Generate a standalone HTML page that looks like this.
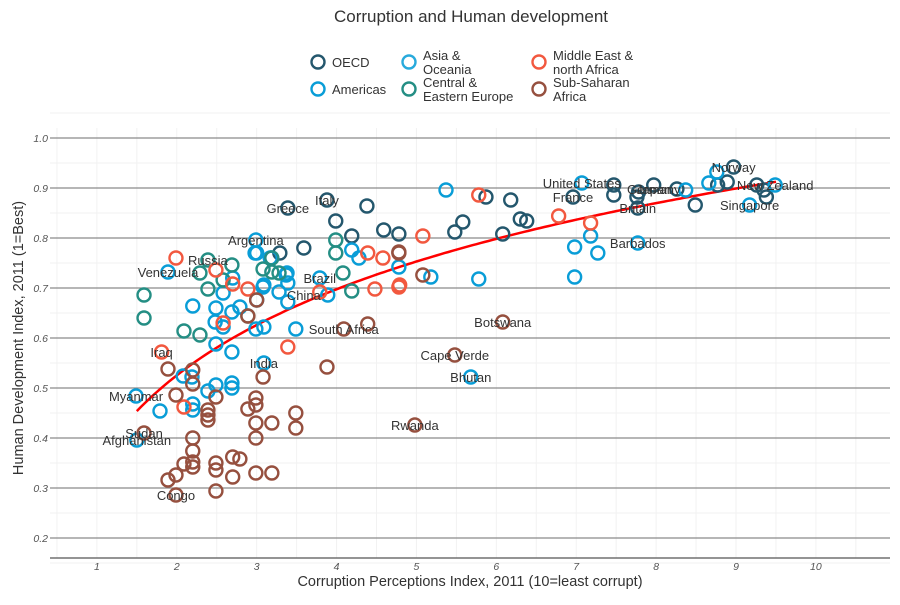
<!DOCTYPE html>
<html><head><meta charset="utf-8"><style>
body{margin:0;background:#fff;font-family:"Liberation Sans",sans-serif}
svg text{font-family:"Liberation Sans",sans-serif}
</style></head><body>
<svg id="chart" width="900" height="600" xmlns="http://www.w3.org/2000/svg">
<text x="471" y="22" text-anchor="middle" font-size="17" fill="#333">Corruption and Human development</text>
<g id="legend"></g>
<g id="grid"></g>
<g id="trend"></g>
<g id="points"></g>
<g id="labels"></g>
<text x="470" y="586" text-anchor="middle" font-size="14.5" fill="#333">Corruption Perceptions Index, 2011 (10=least corrupt)</text>
<text transform="translate(23,338) rotate(-90)" text-anchor="middle" font-size="14.5" fill="#333">Human Development Index, 2011 (1=Best)</text>
</svg>
<script>
const regions = ["OECD","Americas","Asia & Oceania","Central & Eastern Europe","Middle East & north Africa","Sub-Saharan Africa"];
const regionColors = ["#24576D","#099DD7","#28AADC","#248E84","#F2583F","#96503F"];
const xTicks = [1,2,3,4,5,6,7,8,9,10];
const yTicks = [0.2,0.3,0.4,0.5,0.6,0.7,0.8,0.9,1.0];
const oecdCPI = [5.87,6.18,6.30,6.38,6.08,5.58,5.48,4.78,4.59,4.38,3.99,3.88,3.39,4.19,3.59,3.29,8.49,7.76,7.47,7.97,8.26,7.77,6.96,8.97,8.77,8.89,9.26,9.35,9.38,7.78,7.47];
const oecdHDI = [.882,.876,.838,.834,.808,.832,.812,.808,.816,.864,.834,.876,.86,.804,.78,.77,.866,.882,.906,.906,.898,.86,.882,.942,.906,.912,.906,.896,.882,.892,.886];
const blueCPI = [5.37,7.07,8.37,8.66,8.76,9.49,9.17,7.18,6.98,7.27,7.77,6.98,5.78,5.18,4.78,4.28,4.19,3.0,3.18,3.37,3.09,2.99,2.98,3.17,3.38,3.39,3.28,3.39,3.08,3.0,2.7,2.58,2.2,2.49,2.69,2.79,2.48,2.58,2.99,3.09,3.49,2.49,2.69,1.89,3.09,2.08,2.19,2.39,2.49,2.69,2.69,1.49,1.79,2.2,2.2,1.5,3.89,3.79,5.68];
const blueHDI = [.896,.91,.896,.91,.932,.906,.866,.804,.782,.77,.79,.722,.718,.722,.742,.76,.776,.77,.76,.726,.706,.796,.77,.76,.73,.71,.692,.672,.702,.676,.72,.69,.664,.66,.652,.662,.632,.622,.618,.622,.618,.588,.572,.732,.55,.524,.522,.494,.506,.51,.50,.484,.454,.468,.456,.396,.686,.72,.522];
const ceeCPI = [3.99,3.99,4.19,4.08,3.19,3.08,3.19,3.28,2.69,2.39,2.29,2.58,2.39,2.89,1.59,1.59,2.09,2.29];
const ceeHDI = [.796,.77,.694,.73,.76,.738,.732,.73,.746,.756,.73,.716,.698,.644,.686,.64,.614,.606];
const menaCPI = [1.99,2.49,2.7,2.89,2.58,3.39,1.81,2.09,3.79,4.48,4.78,4.39,4.58,5.08,5.78,6.78,7.18,4.79];
const menaHDI = [.76,.736,.708,.698,.63,.582,.572,.462,.692,.698,.702,.77,.76,.804,.886,.844,.83,.706];
const ssaCPI = [4.78,3.0,2.89,4.09,4.39,3.88,1.89,2.2,2.2,3.08,1.99,2.49,2.99,2.89,2.99,2.39,2.39,2.39,3.49,3.49,2.99,3.19,2.99,1.59,2.2,2.2,2.09,2.2,2.2,1.99,1.89,2.49,2.49,2.7,2.79,2.7,2.99,3.19,2.49,1.99,4.98,6.08,5.48,5.08,4.78];
const ssaHDI = [.77,.676,.644,.618,.628,.542,.538,.536,.508,.522,.486,.482,.48,.458,.466,.456,.446,.436,.45,.42,.43,.43,.40,.41,.40,.374,.348,.352,.342,.326,.316,.35,.336,.362,.358,.322,.33,.33,.294,.286,.426,.632,.566,.726,.772];
const labelNames = ["Congo","Afghanistan","Sudan","Myanmar","Iraq","Venezuela","Russia","Argentina","Greece","Italy","Brazil","China","South Africa","India","Cape Verde","Bhutan","Botswana","Rwanda","United States","France","Germany","Japan","Britain","Barbados","Norway","New Zealand","Singapore"];
const labelCPI = [1.99,1.5,1.59,1.49,1.81,1.89,2.39,2.99,3.39,3.88,3.79,3.59,4.09,3.09,5.48,5.68,6.08,4.98,7.07,6.96,7.97,7.97,7.77,7.77,8.97,9.49,9.17];
const labelHDI = [.286,.396,.41,.484,.572,.732,.756,.796,.86,.876,.72,.686,.618,.55,.566,.522,.632,.426,.91,.882,.898,.898,.86,.79,.942,.906,.866];
const fitA = 0.353, fitB = 0.2485;

const NS="http://www.w3.org/2000/svg";
const X = v => 17 + v*79.89;
const Y = v => 638 - v*500;
function mk(tag, attrs, parent){const e=document.createElementNS(NS,tag);for(const k in attrs)e.setAttribute(k,attrs[k]);parent.appendChild(e);return e;}
const grid=document.getElementById('grid');
for(let v=0.15; v<1.06; v+=0.1){const l=mk('line',{x1:50,x2:890,y1:Y(v),y2:Y(v),stroke:'#f0f0f0','stroke-width':1},grid);

}
for(let v=0.5; v<11; v+=0.5){const l=mk('line',{x1:X(v),x2:X(v),y1:128,y2:558,stroke:'#f2f2f2','stroke-width':1},grid);

}
yTicks.forEach(t=>{const l=mk('line',{x1:50,x2:890,y1:Y(t),y2:Y(t),stroke:'#8a8a8a','stroke-width':1.3},grid);


const tx=mk('text',{x:48,y:Y(t)+4,'text-anchor':'end','font-size':10.5,'font-style':'italic',fill:'#555'},grid);tx.textContent=t.toFixed(1);

});
const ax=mk('line',{x1:50,x2:890,y1:558,y2:558,stroke:'#555','stroke-width':1.3},grid);


xTicks.forEach(t=>{const tx=mk('text',{x:X(t),y:570,'text-anchor':'middle','font-size':10.5,'font-style':'italic',fill:'#555'},grid);tx.textContent=t;

});
// trend
let d='';for(let c=1.5;c<=9.51;c+=0.05){d+=(d?'L':'M')+X(c).toFixed(1)+','+Y(fitA+fitB*Math.log(c)).toFixed(1);}
const tp=mk('path',{d:d,fill:'none',stroke:'#FF0000','stroke-width':2.5},document.getElementById('trend'));


// points
const pts=document.getElementById('points');
const sets=[[oecdCPI,oecdHDI,0],[blueCPI,blueHDI,1],[ceeCPI,ceeHDI,3],[menaCPI,menaHDI,4],[ssaCPI,ssaHDI,5]];
sets.forEach(s=>{s[0].forEach((c,i)=>{const p=mk('circle',{cx:X(c),cy:Y(s[1][i]),r:6.5,fill:'none',stroke:regionColors[s[2]],'stroke-width':2.4},pts);

});});
// labels
const lb=document.getElementById('labels');
labelNames.forEach((n,i)=>{const t=mk('text',{x:X(labelCPI[i]),y:Y(labelHDI[i])+5,'text-anchor':'middle','font-size':13,fill:'#333'},lb);t.textContent=n;

});
// legend
const lg=document.getElementById('legend');
const legPos=[[318,62,["OECD"]],[318,89,["Americas"]],[409,62,["Asia &","Oceania"]],[409,89,["Central &","Eastern Europe"]],[539,62,["Middle East &","north Africa"]],[539,89,["Sub-Saharan","Africa"]]];
legPos.forEach((p,i)=>{const c=mk('circle',{cx:p[0],cy:p[1],r:6.5,fill:'none',stroke:regionColors[i],'stroke-width':2.4},lg);


const lines=p[2];lines.forEach((s,j)=>{const y=lines.length===1?p[1]+5:p[1]-2+j*14;const t=mk('text',{x:p[0]+14,y:y,'font-size':13,fill:'#333'},lg);t.textContent=s;

});});
</script>
</body></html>
